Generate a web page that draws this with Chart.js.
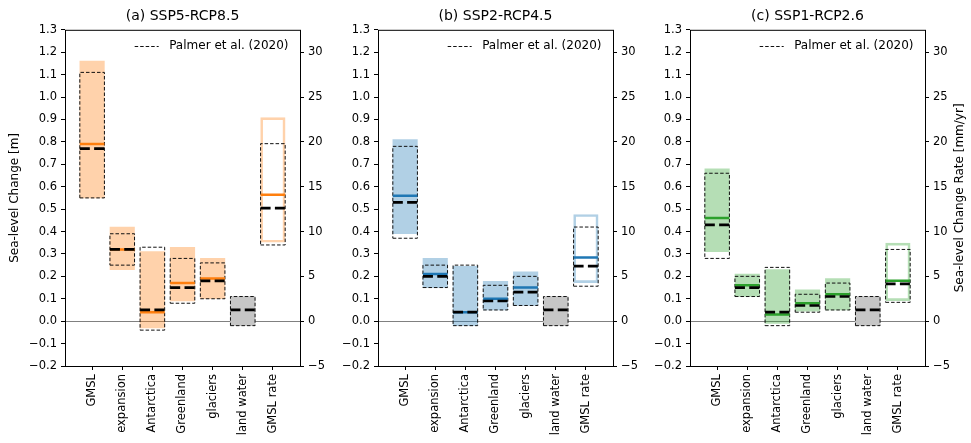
<!DOCTYPE html>
<html>
<head>
<meta charset="utf-8">
<script src="https://cdn.jsdelivr.net/npm/chart.js@4.4.0/dist/chart.umd.min.js"></script>
<style>
  body { margin: 0; background: #fff; }
  #wrap { position: relative; width: 971px; height: 443px; }
  canvas { position: absolute; top: 0; }
</style>
</head>
<body>
<div id="wrap">
  <canvas id="panelA" width="336" height="443" style="left:0px"></canvas>
  <canvas id="panelB" width="305" height="443" style="left:343px"></canvas>
  <canvas id="panelC" width="316" height="443" style="left:655px"></canvas>
</div>
<script>
// Categories and tick labels
const categories = ["GMSL", "expansion", "Antarctica", "Greenland", "glaciers", "land water", "GMSL rate"];
const leftTicks = [-0.2, -0.1, 0, 0.1, 0.2, 0.3, 0.4, 0.5, 0.6, 0.7, 0.8, 0.9, 1.0, 1.1, 1.2, 1.3];
const rightTicks = [-5, 0, 5, 10, 15, 20, 25, 30];
const panelTitles = ["(a) SSP5-RCP8.5", "(b) SSP2-RCP4.5", "(c) SSP1-RCP2.6"];
const legendLabel = "Palmer et al. (2020)";

// Components in m (GMSL .. land water); model median for land water not shown
// (a) SSP5-RCP8.5
const ssp585Low = [0.55, 0.23, -0.03, 0.09, 0.10, -0.02];
const ssp585Med = [0.79, 0.32, 0.04, 0.17, 0.19, null];
const ssp585High = [1.16, 0.42, 0.31, 0.33, 0.28, 0.11];
const palmer585Low = [0.55, 0.25, -0.04, 0.08, 0.10, -0.02];
const palmer585Med = [0.77, 0.32, 0.05, 0.15, 0.18, 0.05];
const palmer585High = [1.11, 0.39, 0.33, 0.28, 0.26, 0.11];
// GMSL rate in mm/yr: low, median, high
const rate585 = [8.8, 14.1, 22.7];
const palmerRate585 = [8.5, 12.6, 19.8];

// (b) SSP2-RCP4.5
const ssp245Low = [0.39, 0.15, -0.02, 0.05, 0.07, -0.02];
const ssp245Med = [0.56, 0.21, 0.04, 0.10, 0.15, null];
const ssp245High = [0.81, 0.28, 0.245, 0.178, 0.22, 0.11];
const palmer245Low = [0.37, 0.15, -0.02, 0.05, 0.07, -0.02];
const palmer245Med = [0.53, 0.20, 0.04, 0.09, 0.13, 0.05];
const palmer245High = [0.78, 0.25, 0.25, 0.16, 0.20, 0.11];
const rate245 = [4.3, 7.1, 11.9];
const palmerRate245 = [3.9, 6.15, 10.5];

// (c) SSP1-RCP2.6
const ssp126Low = [0.31, 0.11, -0.01, 0.045, 0.05, -0.02];
const ssp126Med = [0.46, 0.16, 0.03, 0.08, 0.12, null];
const ssp126High = [0.68, 0.21, 0.23, 0.14, 0.19, 0.11];
const palmer126Low = [0.28, 0.11, -0.02, 0.04, 0.05, -0.02];
const palmer126Med = [0.43, 0.15, 0.04, 0.07, 0.11, 0.05];
const palmer126High = [0.66, 0.20, 0.24, 0.12, 0.17, 0.11];
const rate126 = [2.3, 4.5, 8.7];
const palmerRate126 = [2.1, 4.15, 8.0];

const FONT = "DejaVu Sans";
const HALF = 0.408; // half box width in category units
const BAR_PX = 24.5;
const landGrey = "#c6c6c6";
const rateIdx = categories.length - 1;
const boxDash = [3.5, 2];

function minus(s) {
  return String(s).replace("-", "\u2212");
}

// Closed dashed rectangle for each category, broken by nulls
function boxOutline(lows, highs, start) {
  const pts = [];
  lows.forEach((lo, k) => {
    const i = start + k;
    const hi = highs[k];
    pts.push({ x: i - HALF, y: lo }, { x: i + HALF, y: lo }, { x: i + HALF, y: hi },
      { x: i - HALF, y: hi }, { x: i - HALF, y: lo }, { x: i, y: null });
  });
  return pts;
}

// Horizontal median segments
function medianLines(meds, start) {
  const pts = [];
  meds.forEach((m, k) => {
    if (m === null) return;
    const i = start + k;
    pts.push({ x: i - HALF, y: m }, { x: i + HALF, y: m }, { x: i, y: null });
  });
  return pts;
}

// Black frame round the plot area
const framePlugin = {
  id: "frame",
  afterDatasetsDraw(chart) {
    const { ctx, chartArea: a } = chart;
    ctx.save();
    ctx.strokeStyle = "#000";
    ctx.lineWidth = 1;
    ctx.setLineDash([]);
    ctx.strokeRect(a.left + 0.5, a.top + 0.5, a.right - a.left, a.bottom - a.top);
    ctx.restore();
  }
};

// Legend key in the upper right corner of the plot
const keyPlugin = {
  id: "key",
  afterDatasetsDraw(chart) {
    const { ctx, chartArea: a } = chart;
    const y = a.top + 16;
    ctx.save();
    ctx.font = "12px '" + FONT + "'";
    const textRight = a.right - 11.5;
    const textLeft = textRight - ctx.measureText(legendLabel).width;
    ctx.fillStyle = "#000";
    ctx.textAlign = "left";
    ctx.textBaseline = "middle";
    ctx.fillText(legendLabel, textLeft, y);
    ctx.strokeStyle = "#111";
    ctx.lineWidth = 1;
    ctx.setLineDash(boxDash);
    ctx.beginPath();
    ctx.moveTo(textLeft - 34.5, Math.round(y) + 0.5);
    ctx.lineTo(textLeft - 10.5, Math.round(y) + 0.5);
    ctx.stroke();
    ctx.restore();
  }
};

// Right axis title, reading bottom to top like the left one
const rateTitlePlugin = {
  id: "rateTitle",
  afterDraw(chart, args, opts) {
    if (!opts || !opts.text) return;
    const { ctx, chartArea: a } = chart;
    ctx.save();
    ctx.translate(opts.x, (a.top + a.bottom) / 2);
    ctx.rotate(-Math.PI / 2);
    ctx.font = "12px '" + FONT + "'";
    ctx.fillStyle = "#000";
    ctx.textAlign = "center";
    ctx.textBaseline = "middle";
    ctx.fillText(opts.text, 0, 0);
    ctx.restore();
  }
};

function drawPanel(id, p) {
  const dashedBox = {
    type: "line", borderColor: "#111", borderWidth: 1, borderDash: boxDash,
    pointRadius: 0, pointHitRadius: 0, fill: false, spanGaps: false, tension: 0
  };
  const medianStyle = {
    type: "line", pointRadius: 0, pointHitRadius: 0, fill: false, spanGaps: false, tension: 0
  };
  const datasets = [
    {
      type: "bar",
      data: p.low.map((lo, i) => ({ x: i, y: [lo, p.high[i]] })),
      backgroundColor: p.low.map((_, i) => (i === 5 ? landGrey : p.light)),
      borderWidth: 0, barThickness: BAR_PX, grouped: false, order: 5
    },
    {
      type: "bar", yAxisID: "y2",
      data: [{ x: rateIdx, y: [p.rate[0], p.rate[2]] }],
      backgroundColor: "rgba(0,0,0,0)", borderColor: p.light, borderWidth: 2,
      borderSkipped: false, barThickness: BAR_PX, grouped: false, order: 5
    },
    { ...dashedBox, label: legendLabel, data: boxOutline(p.pLow, p.pHigh, 0), order: 3 },
    { ...dashedBox, yAxisID: "y2", data: boxOutline([p.pRate[0]], [p.pRate[2]], rateIdx), order: 3 },
    { ...medianStyle, data: medianLines(p.med, 0), borderColor: p.dark, borderWidth: 2.5, order: 2 },
    { ...medianStyle, yAxisID: "y2", data: medianLines([p.rate[1]], rateIdx), borderColor: p.dark, borderWidth: 2.5, order: 2 },
    { ...medianStyle, data: medianLines(p.pMed, 0), borderColor: "#000", borderWidth: 2.7, borderDash: [10, 4.3], order: 1 },
    { ...medianStyle, yAxisID: "y2", data: medianLines([p.pRate[1]], rateIdx), borderColor: "#000", borderWidth: 2.7, borderDash: [10, 4.3], order: 1 }
  ];

  const tickFont = { family: FONT, size: 11.5 };

  new Chart(document.getElementById(id), {
    type: "bar",
    data: { datasets },
    options: {
      responsive: false,
      animation: false,
      devicePixelRatio: 1,
      layout: { padding: 0 },
      plugins: {
        tooltip: { enabled: false },
        legend: { display: false },
        title: {
          display: true, text: p.title, fullSize: false, color: "#000",
          font: { family: FONT, size: 14, weight: "normal" },
          padding: { top: 8, bottom: 5 }
        },
        rateTitle: p.rateTitle || {}
      },
      scales: {
        x: {
          type: "linear", min: -0.9, max: 6.9, offset: false,
          afterBuildTicks: s => { s.ticks = categories.map((_, i) => ({ value: i })); },
          afterFit: s => { s.height = 77; },
          ticks: {
            autoSkip: false, minRotation: 90, maxRotation: 90, padding: 4,
            color: "#000", font: tickFont,
            callback: v => categories[Math.round(v)]
          },
          grid: { offset: false, drawOnChartArea: false, tickLength: 4, tickColor: "#000" },
          border: { display: false }
        },
        y: {
          type: "linear", position: "left", min: -0.2, max: 1.3,
          afterBuildTicks: s => { s.ticks = leftTicks.map(v => ({ value: v })); },
          afterFit: s => { s.width = p.leftWidth; },
          ticks: { color: "#000", font: tickFont, padding: 4, callback: v => minus(v.toFixed(1)) },
          grid: {
            color: c => (c.tick && c.tick.value === 0 ? "#808080" : "rgba(0,0,0,0)"),
            tickColor: "#000", tickLength: 4, lineWidth: 1
          },
          border: { display: false },
          title: {
            display: !!p.leftTitle, text: p.leftTitle || "", color: "#000",
            font: { family: FONT, size: 12 }, padding: { top: 8, bottom: 0 }
          }
        },
        y2: {
          type: "linear", position: "right", min: -5, max: 32.5,
          afterBuildTicks: s => { s.ticks = rightTicks.map(v => ({ value: v })); },
          afterFit: s => { s.width = p.rightWidth; },
          ticks: { color: "#000", font: tickFont, padding: 4, callback: v => minus(v) },
          grid: { drawOnChartArea: false, tickColor: "#000", tickLength: 4 },
          border: { display: false }
        }
      }
    },
    plugins: [framePlugin, keyPlugin, rateTitlePlugin]
  });
}

drawPanel("panelA", {
  title: panelTitles[0], dark: "#ff7f0e", light: "rgba(255,127,14,0.35)",
  low: ssp585Low, med: ssp585Med, high: ssp585High,
  pLow: palmer585Low, pMed: palmer585Med, pHigh: palmer585High,
  rate: rate585, pRate: palmerRate585,
  leftWidth: 65, rightWidth: 36, leftTitle: "Sea-level Change [m]"
});

drawPanel("panelB", {
  title: panelTitles[1], dark: "#1f77b4", light: "rgba(31,119,180,0.35)",
  low: ssp245Low, med: ssp245Med, high: ssp245High,
  pLow: palmer245Low, pMed: palmer245Med, pHigh: palmer245High,
  rate: rate245, pRate: palmerRate245,
  leftWidth: 35, rightWidth: 35
});

drawPanel("panelC", {
  title: panelTitles[2], dark: "#2ca02c", light: "rgba(44,160,44,0.35)",
  low: ssp126Low, med: ssp126Med, high: ssp126High,
  pLow: palmer126Low, pMed: palmer126Med, pHigh: palmer126High,
  rate: rate126, pRate: palmerRate126,
  leftWidth: 35, rightWidth: 46,
  rateTitle: { text: "Sea-level Change Rate [mm/yr]", x: 305 }
});
</script>
</body>
</html>
